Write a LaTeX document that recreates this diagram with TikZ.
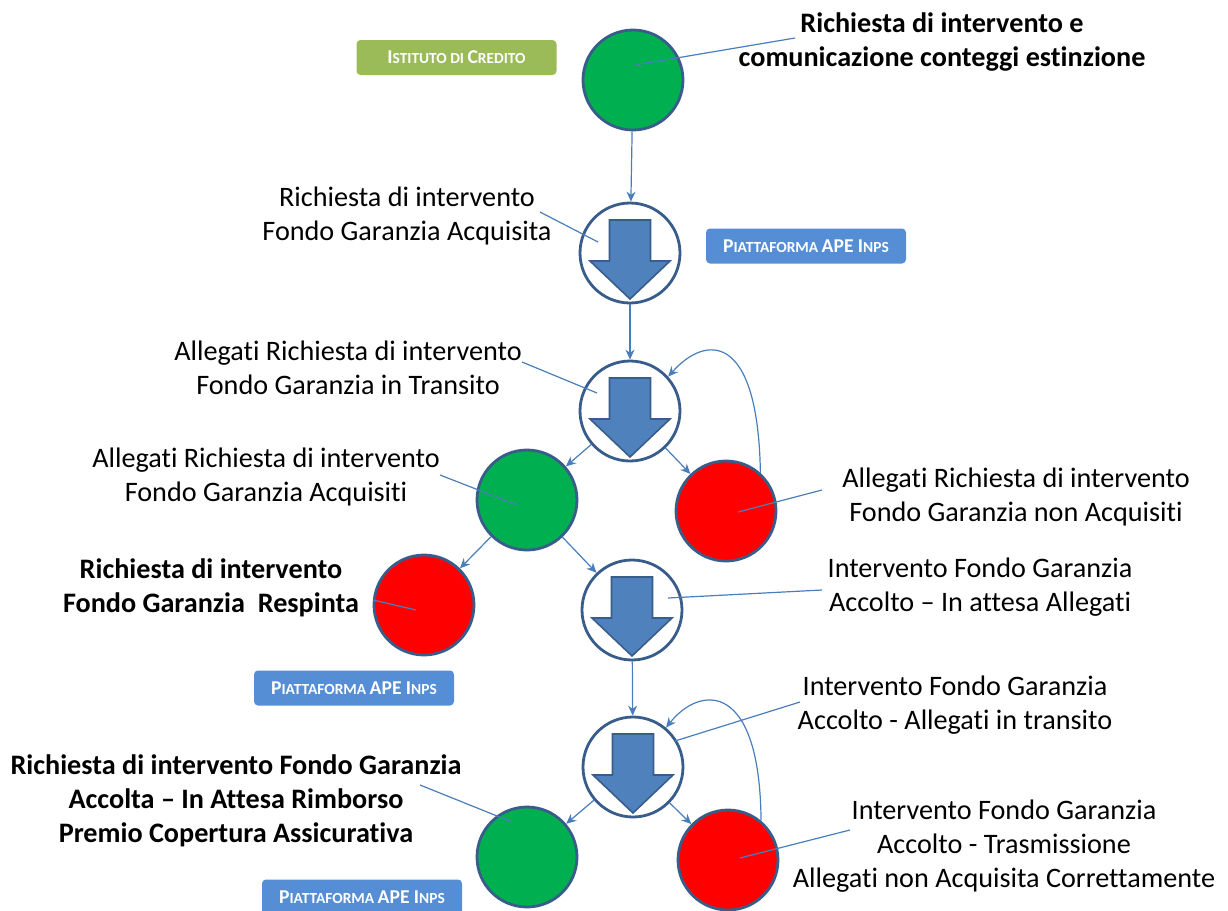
\documentclass[tikz,border=0pt]{standalone}
\usepackage{fontspec}
\setmainfont{Carlito}[Ligatures={NoCommon}]
\usetikzlibrary{arrows.meta}
\definecolor{cgreen}{HTML}{00B050}
\definecolor{cred}{HTML}{FF0000}
\definecolor{cborder}{HTML}{385D8A}
\definecolor{carrow}{HTML}{4F81BD}
\definecolor{cline}{HTML}{4A7EBB}
\definecolor{boxgreen}{HTML}{9BBB59}
\definecolor{boxblue}{HTML}{558ED5}
\newcommand{\bigsc}[2]{{\fontsize{9.8}{11}\selectfont #1}{\fontsize{7.7}{9}\selectfont #2}}
\tikzset{
  x=0.5pt, y=-0.5pt,
  circ/.style={circle, draw=cborder, line width=1.4pt, minimum size=50pt, inner sep=0pt},
  gcirc/.style={circ, fill=cgreen},
  rcirc/.style={circ, fill=cred},
  acirc/.style={circ, fill=white},
  conn/.style={draw=cline, line width=0.6pt, -{Stealth[length=5pt,width=4.5pt]}},
  ptr/.style={draw=cline, line width=0.6pt},
  lbl/.style={align=center, font=\fontsize{14.1}{17}\selectfont, text=black, inner sep=0pt},
  blbl/.style={lbl, font=\fontsize{14.1}{17}\selectfont\bfseries},
  tagbox/.style={text=white, font=\bfseries, minimum width=100pt, minimum height=17.5pt, inner sep=0pt, rounded corners=2pt},
  darrow/.pic={\filldraw[fill=carrow, draw=cborder, line width=0.8pt] (-20.5,-33) -- (20.5,-33) -- (20.5,8) -- (40,8) -- (0,46) -- (-40,8) -- (-20.5,8) -- cycle;}
}
\begin{document}
\begin{tikzpicture}
\useasboundingbox (0,0) rectangle (1228,911);
% tags
\node[tagbox, fill=boxgreen] (t0) at (456.5,57.5) {\bigsc{I}{STITUTO DI }\bigsc{C}{REDITO}};
\node[tagbox, fill=boxblue] (t1) at (806,246) {\bigsc{P}{IATTAFORMA }\bigsc{APE I}{NPS}};
\node[tagbox, fill=boxblue] (t2) at (354,688) {\bigsc{P}{IATTAFORMA }\bigsc{APE I}{NPS}};
\node[tagbox, fill=boxblue] (t3) at (362,897) {\bigsc{P}{IATTAFORMA }\bigsc{APE I}{NPS}};
% circles
\node[gcirc] (c0) at (633,80) {};
\node[acirc] (a1) at (630,253) {};
\pic at (a1.center) {darrow};
\node[acirc] (a2) at (630,411) {};
\pic at (a2.center) {darrow};
\node[gcirc] (g2) at (527,500) {};
\node[rcirc] (r1) at (726,511) {};
\node[rcirc] (r2) at (424,605) {};
\node[acirc] (a3) at (632,610) {};
\pic at (a3.center) {darrow};
\node[acirc] (a4) at (633,767) {};
\pic at (a4.center) {darrow};
\node[gcirc] (g3) at (527,857) {};
\node[rcirc] (r3) at (728,860) {};
% connectors
\draw[conn] (c0) -- (a1);
\draw[conn] (a1) -- (a2);
\draw[conn] (a2) -- (g2);
\draw[conn] (a2) -- (r1);
\draw[conn] (r1.48) .. controls (758,330) and (705,335) .. (a2.42);
\draw[conn] (g2) -- (r2);
\draw[conn] (g2) -- (a3);
\draw[conn] (a3) -- (a4);
\draw[conn] (a4) -- (g3);
\draw[conn] (a4) -- (r3);
\draw[conn] (r3.50) .. controls (760,680) and (700,685) .. (a4.50);
% labels
\node[blbl] (l0) at (942,42) {Richiesta di intervento e\\comunicazione conteggi estinzione};
\node[lbl] (l1) at (407,216) {Richiesta di intervento\\Fondo Garanzia Acquisita};
\node[lbl] (l2) at (348,368) {Allegati Richiesta di intervento\\Fondo Garanzia in Transito};
\node[lbl] (l3) at (266,477) {Allegati Richiesta di intervento\\Fondo Garanzia Acquisiti};
\node[lbl] (l4) at (1016,497) {Allegati Richiesta di intervento\\Fondo Garanzia non Acquisiti};
\node[blbl] (l5) at (211,588) {Richiesta di intervento\\Fondo Garanzia\ \ Respinta};
\node[lbl] (l6) at (980,587) {Intervento Fondo Garanzia\\Accolto -- In attesa Allegati};
\node[lbl] (l7) at (955,705) {Intervento Fondo Garanzia\\Accolto - Allegati in transito};
\node[blbl] (l8) at (236,801) {Richiesta di intervento Fondo Garanzia\\Accolta -- In Attesa Rimborso\\Premio Copertura Assicurativa};
\node[lbl] (l9) at (1004,846) {Intervento Fondo Garanzia\\Accolto - Trasmissione\\Allegati non Acquisita Correttamente};
% pointers
\coordinate (p0) at (795,38);
\coordinate (q0) at (635,65);
\draw[ptr] (p0) -- (q0);
\coordinate (p1) at (540,212);
\coordinate (q1) at (598,242);
\draw[ptr] (p1) -- (q1);
\coordinate (p2) at (522,362);
\coordinate (q2) at (597,393);
\draw[ptr] (p2) -- (q2);
\coordinate (p3) at (440,475);
\coordinate (q3) at (517,505);
\draw[ptr] (p3) -- (q3);
\coordinate (p4) at (822,490);
\coordinate (q4) at (738,512);
\draw[ptr] (p4) -- (q4);
\coordinate (p5) at (373,600);
\coordinate (q5) at (416,610);
\draw[ptr] (p5) -- (q5);
\coordinate (p6) at (822,590);
\coordinate (q6) at (668,598);
\draw[ptr] (p6) -- (q6);
\coordinate (p7) at (800,702);
\coordinate (q7) at (675,741);
\draw[ptr] (p7) -- (q7);
\coordinate (p8) at (420,785);
\coordinate (q8) at (512,822);
\draw[ptr] (p8) -- (q8);
\coordinate (p9) at (850,830);
\coordinate (q9) at (740,858);
\draw[ptr] (p9) -- (q9);
\end{tikzpicture}
\end{document}
